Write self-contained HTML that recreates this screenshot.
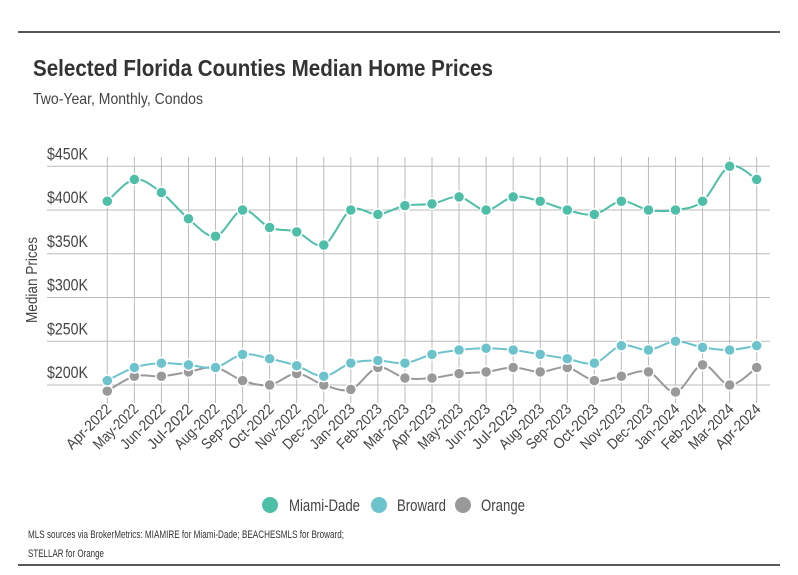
<!DOCTYPE html>
<html><head><meta charset="utf-8"><style>
html,body{margin:0;padding:0;background:#fff;}
svg{display:block;font-family:"Liberation Sans Narrow","Liberation Sans",sans-serif;}
</style></head><body>
<svg id="chart" width="798" height="575" viewBox="0 0 798 575">
<line x1="18" y1="32" x2="780" y2="32" stroke="#222" stroke-width="1.5"/>
<text x="33" y="76" font-size="23" font-weight="bold" fill="#333" textLength="460" lengthAdjust="spacingAndGlyphs">Selected Florida Counties Median Home Prices</text>
<text x="33" y="104" font-size="16" fill="#444" textLength="170" lengthAdjust="spacingAndGlyphs">Two-Year, Monthly, Condos</text>
<text transform="translate(37,280) rotate(-90)" text-anchor="middle" font-size="16" fill="#444" textLength="86" lengthAdjust="spacingAndGlyphs">Median Prices</text>
<g id="grid"></g><g id="series"></g><g id="xlabels"></g>
<g font-size="17" fill="#444">
<circle cx="270" cy="505" r="8" fill="#4dbfa8"/>
<text x="289" y="511" textLength="71" lengthAdjust="spacingAndGlyphs">Miami-Dade</text>
<circle cx="379" cy="505" r="8" fill="#6cc3cc"/>
<text x="397" y="511" textLength="49" lengthAdjust="spacingAndGlyphs">Broward</text>
<circle cx="463" cy="505" r="8" fill="#999"/>
<text x="481" y="511" textLength="44" lengthAdjust="spacingAndGlyphs">Orange</text>
</g>
<text x="28" y="538" font-size="11" fill="#333" textLength="316" lengthAdjust="spacingAndGlyphs">MLS sources via BrokerMetrics: MIAMIRE for Miami-Dade; BEACHESMLS for Broward;</text>
<text x="28" y="557" font-size="11" fill="#333" textLength="76" lengthAdjust="spacingAndGlyphs">STELLAR for Orange</text>
<line x1="18" y1="565" x2="780" y2="565" stroke="#222" stroke-width="1.5"/>
</svg>
<script>
const categories=["Apr-2022","May-2022","Jun-2022","Jul-2022","Aug-2022","Sep-2022","Oct-2022","Nov-2022","Dec-2022","Jan-2023","Feb-2023","Mar-2023","Apr-2023","May-2023","Jun-2023","Jul-2023","Aug-2023","Sep-2023","Oct-2023","Nov-2023","Dec-2023","Jan-2024","Feb-2024","Mar-2024","Apr-2024"];
const miamiDade=[410,435,420,390,370,400,380,375,360,400,395,405,407,415,400,415,410,400,395,410,400,400,410,450,435];
const broward=[205,220,225,223,220,235,230,222,210,225,228,225,235,240,242,240,235,230,225,245,240,250,243,240,245];
const orange=[193,210,210,215,220,205,200,213,200,195,220,208,208,213,215,220,215,220,205,210,215,192,223,200,220];
const yTicks=[200,250,300,350,400,450];
const yTickLabels=["$200K","$250K","$300K","$350K","$400K","$450K"];

const NS="http://www.w3.org/2000/svg";
const x0=107.3,x1=756.7,plotL=47,plotR=770;
function xs(i){return x0+(x1-x0)*i/(categories.length-1);}
function ys(v){return 385-(v-200)*(385-166.3)/250;}
function mk(tag,attrs,parent){const e=document.createElementNS(NS,tag);for(const k in attrs)e.setAttribute(k,attrs[k]);parent.appendChild(e);return e;}
const grid=document.getElementById('grid');
yTicks.forEach((t,i)=>{
  const l=mk('line',{x1:plotL,x2:plotR,y1:ys(t),y2:ys(t),stroke:'#bbb','stroke-width':1},grid);
  
  
  const tx=mk('text',{x:88,y:ys(t)-7,'text-anchor':'end','font-size':17,fill:'#444',textLength:41,lengthAdjust:'spacingAndGlyphs'},grid);
  tx.textContent=yTickLabels[i];
  
  
});
const xl=document.getElementById('xlabels');
categories.forEach((c,i)=>{
  const l=mk('line',{x1:xs(i),x2:xs(i),y1:157,y2:403,stroke:'#bbb','stroke-width':1},grid);
  
  
  const t=mk('text',{transform:`translate(${xs(i)+5},${410}) rotate(-45)`,'text-anchor':'end','font-size':15,fill:'#444',textLength:57,lengthAdjust:'spacingAndGlyphs'},xl);
  t.textContent=c;
  
  
});
function smooth(pts){
  let d=`M${pts[0][0]},${pts[0][1]}`;
  for(let i=0;i<pts.length-1;i++){
    const p0=pts[i-1]||pts[i],p1=pts[i],p2=pts[i+1],p3=pts[i+2]||p2;
    const c1=[p1[0]+(p2[0]-p0[0])/6,p1[1]+(p2[1]-p0[1])/6];
    const c2=[p2[0]-(p3[0]-p1[0])/6,p2[1]-(p3[1]-p1[1])/6];
    d+=` C${c1[0]},${c1[1]} ${c2[0]},${c2[1]} ${p2[0]},${p2[1]}`;
  }
  return d;
}
const sg=document.getElementById('series');
[[orange,'#999','orange'],[broward,'#6cc3cc','broward'],[miamiDade,'#4dbfa8','miami-dade']].forEach(([vals,col,name])=>{
  const g=mk('g',{},sg);
  
  
  const pts=vals.map((v,i)=>[xs(i),ys(v)]);
  const p=mk('path',{d:smooth(pts),fill:'none',stroke:col,'stroke-width':2},g);
  
  
  pts.forEach(pt=>{
    const c=mk('circle',{cx:pt[0],cy:pt[1],r:5.5,fill:col,stroke:'#fff','stroke-width':1.5},g);
    
    
  });
});
</script>
</body></html>
